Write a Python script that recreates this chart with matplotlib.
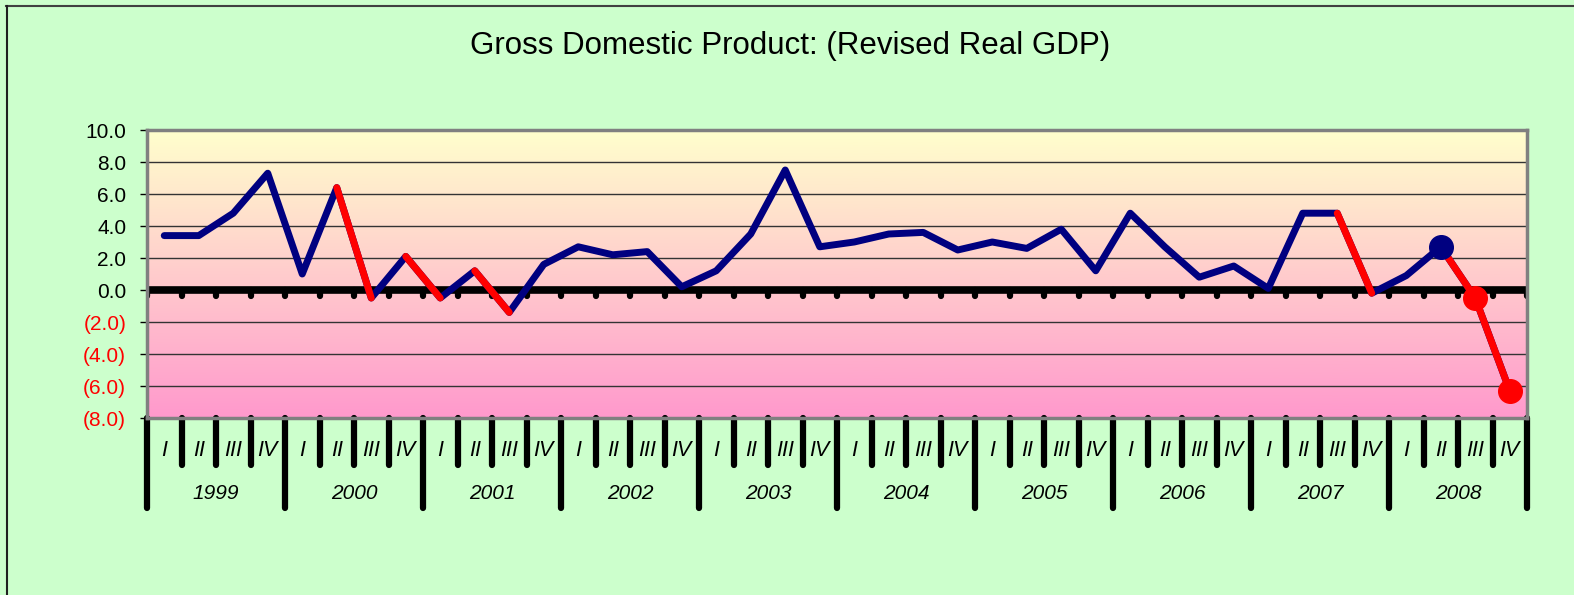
import matplotlib
matplotlib.use('Agg')
import matplotlib.pyplot as plt
import matplotlib.transforms as mtransforms
from matplotlib.colors import LinearSegmentedColormap
import numpy as np

plt.rcParams['font.family'] = ['Liberation Sans', 'DejaVu Sans']

# data
years = ['1999', '2000', '2001', '2002', '2003', '2004', '2005', '2006', '2007', '2008']
quarters = ['I', 'II', 'III', 'IV']
gdp = [3.4, 3.4, 4.8, 7.3,
       1.0, 6.4, -0.5, 2.1,
       -0.5, 1.2, -1.4, 1.6,
       2.7, 2.2, 2.4, 0.2,
       1.2, 3.5, 7.5, 2.7,
       3.0, 3.5, 3.6, 2.5,
       3.0, 2.6, 3.8, 1.2,
       4.8, 2.7, 0.8, 1.5,
       0.1, 4.8, 4.8, -0.2,
       0.9, 2.7, -0.5, -6.3]
yticks = [10, 8, 6, 4, 2, 0, -2, -4, -6, -8]

navy = '#000080'
red = '#FF0000'

fig = plt.figure(figsize=(15.74, 5.95), dpi=100)
fig.patch.set_facecolor('#CCFFCC')
ax = fig.add_axes([147/1574, 1-418/595, (1527-147)/1574, (418-130)/595])

n = len(gdp)
x = np.arange(n)
ax.set_xlim(-0.5, n - 0.5)
ax.set_ylim(-8, 10)

# gradient background yellow -> pink
cmap = LinearSegmentedColormap.from_list('bg', ['#FF99CC', '#FFFFCC'])
grad = np.linspace(0, 1, 256).reshape(-1, 1)
ax.imshow(grad, aspect='auto', cmap=cmap, origin='lower',
          extent=[-0.5, n - 0.5, -8, 10], zorder=0)

# gridlines
for v in yticks:
    if v not in (10, 0, -8):
        ax.axhline(v, color='#333333', lw=1.0, zorder=1)

# zero line with small ticks
ax.axhline(0, color='black', lw=5.5, zorder=2)
for k in range(n + 1):
    ax.plot([k - 0.5, k - 0.5], [0, -0.4], color='black', lw=4.5,
            solid_capstyle='round', zorder=2)

# series: blue line, red on segments going into negative quarters
ax.plot(x, gdp, color=navy, lw=5, solid_joinstyle='round',
        solid_capstyle='round', zorder=3)
for i in range(1, n):
    if gdp[i] < 0:
        ax.plot([x[i-1], x[i]], [gdp[i-1], gdp[i]], color=red, lw=5,
                solid_capstyle='round', zorder=4)
ax.plot(x[-3], gdp[-3], 'o', color=navy, ms=17, zorder=5)
ax.plot(x[-2:], gdp[-2:], 'o', color=red, ms=17, lw=0, zorder=5)

# y axis
ax.set_yticks(yticks)
ax.set_yticklabels(['%.1f' % v if v >= 0 else '(%.1f)' % -v for v in yticks],
                   fontsize=15)
for lab, v in zip(ax.get_yticklabels(), yticks):
    lab.set_color('black' if v >= 0 else red)
ax.tick_params(axis='y', length=5, width=1, color='black', pad=10)
ax.set_xticks([])
for s in ax.spines.values():
    s.set_color('#808080')
    s.set_linewidth(2.5)

# category axis drawn below plot
trans = mtransforms.blended_transform_factory(ax.transData, ax.transAxes)
for k in range(n + 1):
    bottom = -0.3125 if k % 4 == 0 else -0.163
    ax.plot([k - 0.5, k - 0.5], [0, bottom], color='black', lw=4.5,
            solid_capstyle='round', transform=trans, clip_on=False)
for i in range(n):
    ax.text(i, -0.112, quarters[i % 4], transform=trans, ha='center',
            va='center', fontsize=15.5, style='italic')
for j, yr in enumerate(years):
    ax.text(4 * j + 1.5, -0.262, yr, transform=trans, ha='center',
            va='center', fontsize=15, style='italic')

fig.text(790/1574, 1-46/595, 'Gross Domestic Product: (Revised Real GDP)',
         ha='center', va='center', fontsize=22.5)

# figure border (top and left)
fig.add_artist(plt.Line2D([6/1574, 1], [1-6/595, 1-6/595], color='#404040',
                          lw=1.5, transform=fig.transFigure))
fig.add_artist(plt.Line2D([7/1574, 7/1574], [0, 1-6/595], color='#202020',
                          lw=1.5, transform=fig.transFigure))

fig.savefig('out.png', dpi=100, facecolor=fig.get_facecolor())
